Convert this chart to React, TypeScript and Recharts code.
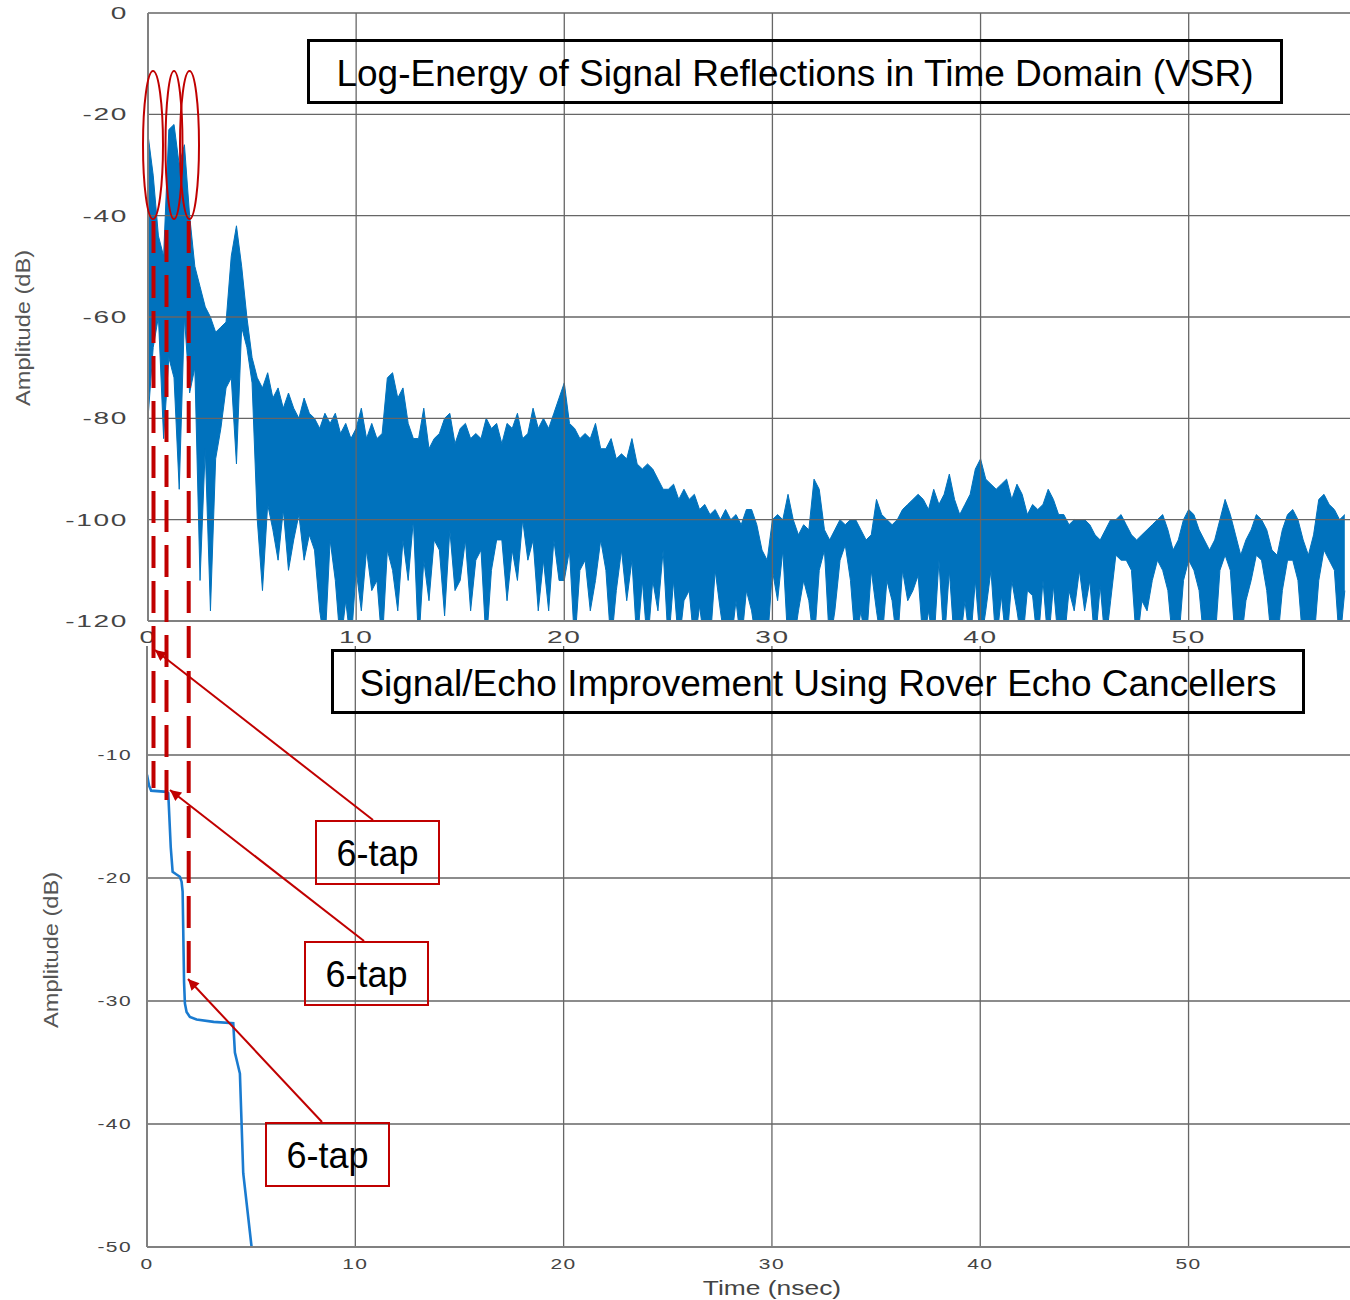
import React from 'react'
import { AreaChart, Area, LineChart, Line, XAxis, YAxis, ReferenceLine } from 'recharts'

const FONT = '"Liberation Sans", Arial, Helvetica, sans-serif'
const RED = '#C00000'
const BLUE = '#0072BD'

// top panel: one peak and one dip read per 0.25 ns bin (dB), -125 = runs off the bottom
const binStep = 0.25
const peakDb = [
  -24, -32, -44, -48, -23, -22, -30, -26, -40, -50, -54, -58, -60, -63, -62, -61,
  -48, -42, -50, -60, -68, -72, -74, -71, -76, -74, -78, -75, -78, -80, -76, -79,
  -80, -82, -79, -81, -79, -83, -81, -84, -82, -78, -84, -81, -84, -83, -72, -71,
  -76, -74, -81, -84, -84, -78, -86, -84, -83, -80, -79, -85, -82, -81, -84, -83,
  -84, -80, -82, -81, -85, -81, -82, -79, -84, -83, -78, -82, -80, -82, -79, -76,
  -73, -81, -82, -84, -83, -84, -81, -86, -86, -84, -88, -87, -88, -84, -89, -90,
  -89, -90, -92, -94, -94, -93, -96, -94, -96, -95, -98, -97, -99, -98, -100, -98,
  -100, -99, -101, -98, -98, -101, -106, -108, -100, -99, -100, -95, -100, -103, -101, -102,
  -92, -94, -102, -104, -102, -100, -101, -100, -100, -102, -104, -103, -96, -99, -100, -101,
  -100, -98, -97, -96, -95, -96, -98, -94, -97, -95, -91, -96, -99, -97, -95, -90,
  -88, -92, -93, -94, -93, -92, -96, -93, -95, -99, -97, -98, -97, -94, -96, -99,
  -99, -101, -100, -100, -100, -101, -103, -104, -102, -100, -100, -99, -101, -103, -104, -103,
  -102, -101, -100, -99, -102, -106, -104, -100, -98, -99, -102, -104, -106, -104, -100, -96,
  -99, -103, -107, -104, -102, -99, -100, -102, -106, -107, -102, -99, -98, -100, -104, -107,
  -103, -96, -95, -97, -98, -100, -99,
]
const dipDb = [
  -80, -66, -60, -84, -68, -72, -94, -60, -75, -70, -112, -86, -118, -88, -82, -74,
  -72, -89, -62, -66, -73, -100, -114, -97, -102, -108, -98, -110, -104, -99, -108, -103,
  -106, -118, -125, -104, -112, -125, -116, -125, -110, -118, -106, -114, -112, -125, -106, -110,
  -118, -104, -112, -100, -125, -108, -116, -104, -106, -119, -102, -114, -112, -104, -118, -108,
  -106, -125, -110, -104, -104, -116, -106, -112, -100, -108, -104, -118, -108, -118, -104, -112,
  -112, -106, -125, -110, -108, -118, -112, -104, -110, -125, -114, -106, -116, -108, -125, -112,
  -125, -112, -118, -106, -125, -112, -125, -116, -114, -125, -117, -125, -125, -110, -118, -125,
  -125, -116, -125, -114, -118, -125, -125, -125, -110, -116, -106, -125, -125, -118, -112, -116,
  -125, -110, -106, -125, -118, -108, -105, -112, -125, -118, -125, -110, -118, -125, -112, -116,
  -125, -110, -116, -114, -111, -125, -118, -125, -108, -125, -110, -125, -125, -116, -125, -112,
  -125, -118, -110, -125, -115, -125, -112, -118, -125, -114, -115, -125, -112, -125, -113, -125,
  -125, -114, -118, -110, -118, -112, -125, -113, -125, -116, -107, -108, -108, -110, -125, -116,
  -118, -112, -108, -110, -114, -125, -125, -112, -108, -110, -114, -125, -125, -125, -110, -107,
  -110, -125, -125, -116, -112, -107, -108, -114, -125, -125, -114, -108, -108, -112, -125, -125,
  -125, -112, -106, -108, -110, -125, -114,
]

// bottom panel: residual echo after the three 6-tap cancellers
const echoTime = [0, 0.1, 0.2, 0.95, 1.02, 1.14, 1.23, 1.4, 1.58, 1.66, 1.71, 1.78, 1.82, 1.9, 2.06, 2.38, 3.2, 4.14, 4.22, 4.46, 4.62, 5.02, 5.12]
const echoDb = [-11.6, -12.5, -12.9, -13.0, -13.1, -17.5, -19.5, -19.7, -19.9, -20.3, -21.1, -28.5, -30.2, -30.9, -31.3, -31.5, -31.7, -31.8, -34.2, -35.9, -44.0, -50.0, -51.0]

const timeTicks = [0, 10, 20, 30, 40, 50]
const topTicks = [0, -20, -40, -60, -80, -100, -120]
const bottomTicks = [-10, -20, -30, -40, -50]

const reflectionData = peakDb.map((p, i) => ({ t: i * binStep, band: [dipDb[i], p] }))
const echoData = echoTime.map((t, i) => ({ t, db: echoDb[i] }))

// matlab-ish wide tick labels
const wideTick = (size: number, sx: number, dy: number, anchor: 'start' | 'middle' | 'end') => (props: any) => {
  const { x, y, payload } = props
  return (
    <text
      transform={`translate(${x},${y + dy}) scale(${sx},1)`}
      textAnchor={anchor}
      fontSize={size}
      fontFamily={FONT}
      letterSpacing={1}
      fill="#444"
    >
      {payload.value}
    </text>
  )
}

const axisStroke = { stroke: '#808080', strokeWidth: 2 }
const gridProps = { stroke: '#666', strokeWidth: 1.3 }

const TapBox = ({ x, y, label }: { x: number; y: number; label: string }) => (
  <g>
    <rect x={x} y={y} width={123} height={63} fill="none" stroke={RED} strokeWidth={2} />
    <text x={x + 61.5} y={y + 45} textAnchor="middle" fontSize={36} fontFamily={FONT} fill="#000">
      {label}
    </text>
  </g>
)

const TitleBox = ({ x, y, w, label }: { x: number; y: number; w: number; label: string }) => (
  <g>
    <rect x={x} y={y} width={w} height={62} fill="none" stroke="#000" strokeWidth={3} />
    <text x={x + w / 2} y={y + 45} textAnchor="middle" fontSize={37} fontFamily={FONT} fill="#000">
      {label}
    </text>
  </g>
)

export default function App() {
  return (
    <div style={{ position: 'absolute', left: 0, top: 0, width: 1350, height: 1300, background: '#fff', fontFamily: FONT }}>
      <div style={{ position: 'absolute', left: 0, top: 0 }}>
        <AreaChart width={1350} height={660} data={reflectionData} margin={{ top: 13, right: 0, bottom: 0, left: 0 }}>
          <XAxis
            dataKey="t"
            type="number"
            domain={[0, 57.75]}
            ticks={timeTicks}
            allowDataOverflow
            height={39}
            tickSize={0}
            tickMargin={0}
            interval={0}
            tick={wideTick(17, 1.65, 22, 'middle')}
            axisLine={axisStroke}
          />
          <YAxis
            type="number"
            domain={[-120, 0]}
            ticks={topTicks}
            allowDataOverflow
            width={148}
            tickSize={0}
            tickMargin={20}
            interval={0}
            tick={wideTick(17, 1.65, 6, 'end')}
            axisLine={axisStroke}
          />
          <Area
            dataKey="band"
            type="linear"
            stroke={BLUE}
            strokeWidth={1}
            fill={BLUE}
            fillOpacity={1}
            dot={false}
            activeDot={false}
            isAnimationActive={false}
          />
          {topTicks.slice(0, -1).map((v) => (
            <ReferenceLine key={'h' + v} y={v} {...gridProps} />
          ))}
          {timeTicks.slice(1).map((v) => (
            <ReferenceLine key={'v' + v} x={v} {...gridProps} />
          ))}
        </AreaChart>
      </div>

      <div style={{ position: 'absolute', left: 0, top: 645 }}>
        <LineChart width={1350} height={655} data={echoData} margin={{ top: 1, right: 0, bottom: 0, left: 0 }}>
          <XAxis
            dataKey="t"
            type="number"
            domain={[0, 57.75]}
            ticks={timeTicks}
            allowDataOverflow
            height={53}
            tickSize={0}
            tickMargin={0}
            interval={0}
            tick={wideTick(15, 1.4, 22, 'middle')}
            axisLine={axisStroke}
          />
          <YAxis
            type="number"
            domain={[-50, -1.14]}
            ticks={bottomTicks}
            allowDataOverflow
            width={147}
            tickSize={0}
            tickMargin={15}
            interval={0}
            tick={wideTick(15, 1.4, 5, 'end')}
            axisLine={axisStroke}
          />
          {bottomTicks.slice(0, -1).map((v) => (
            <ReferenceLine key={'h' + v} y={v} {...gridProps} />
          ))}
          {timeTicks.slice(1).map((v) => (
            <ReferenceLine key={'v' + v} x={v} {...gridProps} />
          ))}
          <Line dataKey="db" type="linear" stroke="#1a7bd0" strokeWidth={2.6} dot={false} isAnimationActive={false} />
        </LineChart>
      </div>

      <svg width={1350} height={1300} style={{ position: 'absolute', left: 0, top: 0, pointerEvents: 'none' }}>
        <defs>
          <marker id="tip" viewBox="0 0 10 10" refX="10" refY="5" markerWidth="15" markerHeight="11" markerUnits="userSpaceOnUse" orient="auto">
            <path d="M0,0 L10,5 L0,10 z" fill={RED} />
          </marker>
        </defs>

        <text transform="translate(30,328) rotate(-90) scale(1.18,1)" textAnchor="middle" fontSize={20} fontFamily={FONT} fill="#555">
          Amplitude (dB)
        </text>
        <text transform="translate(58,950) rotate(-90) scale(1.18,1)" textAnchor="middle" fontSize={20} fontFamily={FONT} fill="#555">
          Amplitude (dB)
        </text>
        <text transform="translate(772,1295) scale(1.32,1)" textAnchor="middle" fontSize={20} fontFamily={FONT} fill="#444">
          Time (nsec)
        </text>

        <TitleBox x={308.5} y={40.5} w={973} label="Log-Energy of Signal Reflections in Time Domain (VSR)" />
        <TitleBox x={332.5} y={650.5} w={971} label="Signal/Echo Improvement Using Rover Echo Cancellers" />

        <ellipse cx={153} cy={145} rx={10} ry={74} fill="none" stroke={RED} strokeWidth={2} />
        <ellipse cx={174} cy={145} rx={8.5} ry={74} fill="none" stroke={RED} strokeWidth={2} />
        <ellipse cx={189.5} cy={145} rx={9.5} ry={74} fill="none" stroke={RED} strokeWidth={2} />

        <line x1={153.5} y1={221} x2={153.5} y2={788} stroke={RED} strokeWidth={4} strokeDasharray="32 13" />
        <line x1={166.5} y1={230} x2={166.5} y2={800} stroke={RED} strokeWidth={4} strokeDasharray="32 13" />
        <line x1={188.7} y1={221} x2={188.7} y2={982} stroke={RED} strokeWidth={4} strokeDasharray="32 13" />

        <line x1={373} y1={820} x2={155} y2={650} stroke={RED} strokeWidth={2} markerEnd="url(#tip)" />
        <line x1={364} y1={941} x2={170} y2={790} stroke={RED} strokeWidth={2} markerEnd="url(#tip)" />
        <line x1={322} y1={1122} x2={188} y2={979} stroke={RED} strokeWidth={2} markerEnd="url(#tip)" />

        <TapBox x={316} y={821} label="6-tap" />
        <TapBox x={305} y={942} label="6-tap" />
        <TapBox x={266} y={1123} label="6-tap" />
      </svg>
    </div>
  )
}
